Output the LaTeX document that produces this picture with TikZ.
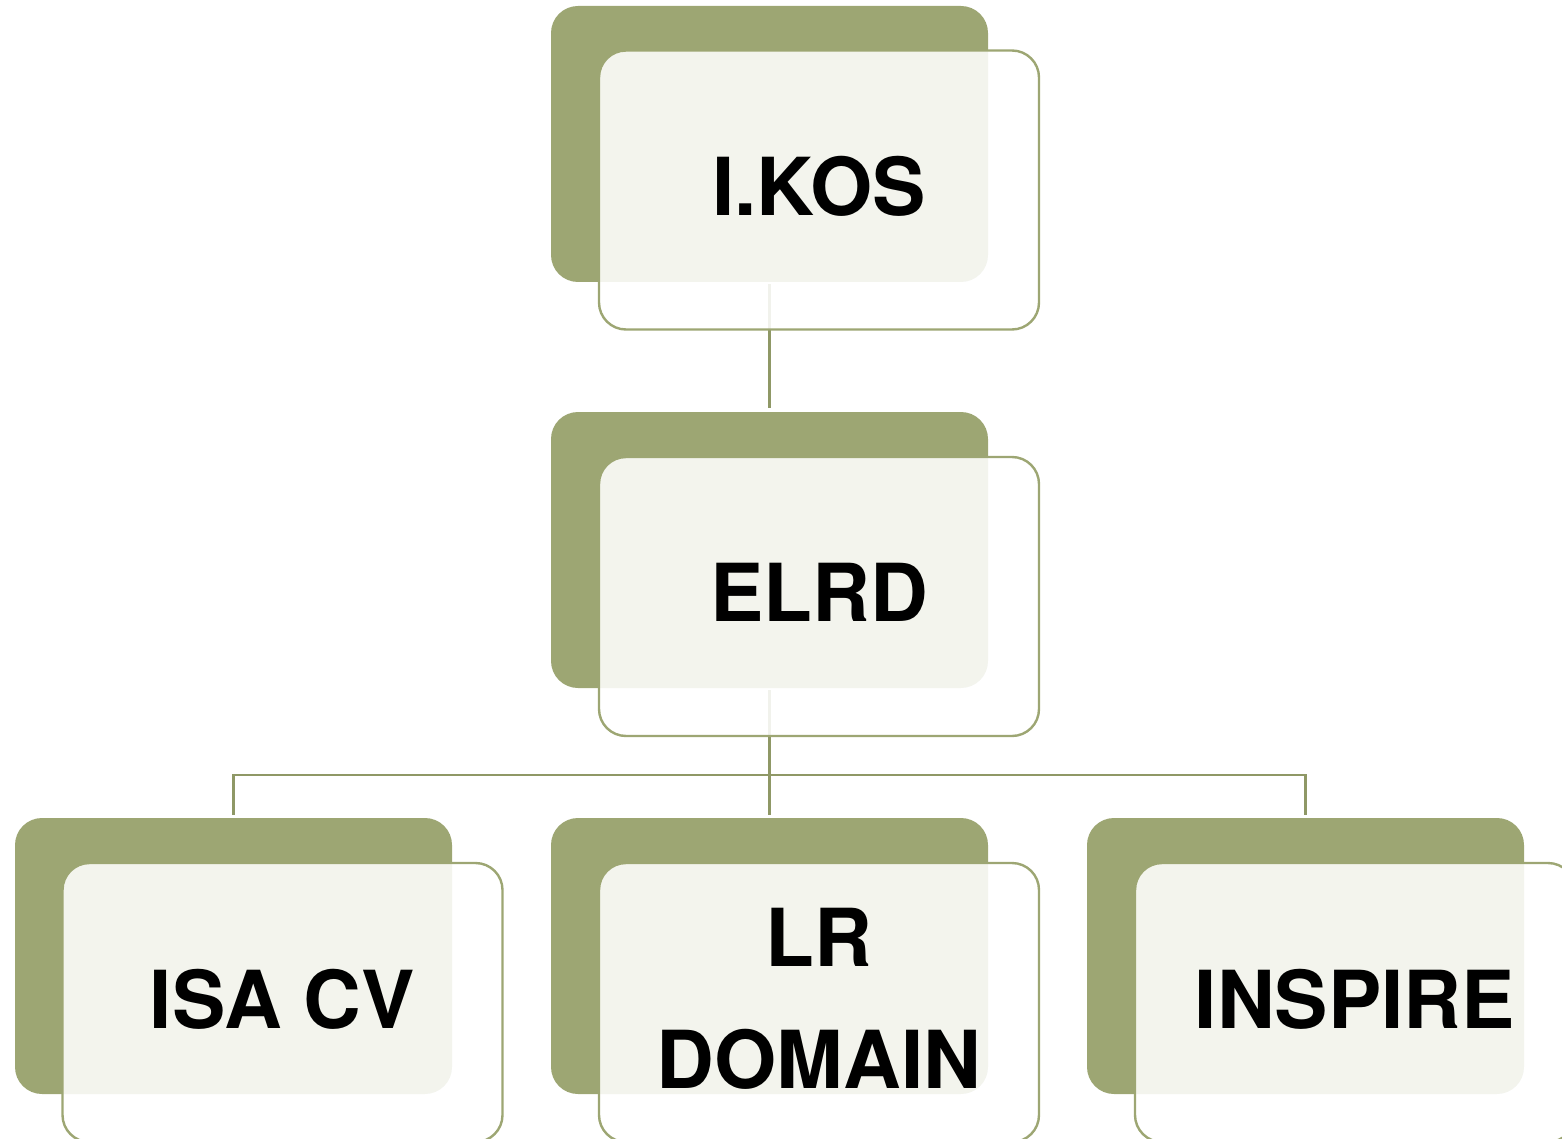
\documentclass[tikz,border=0pt]{standalone}
\usepackage{fontspec}
\setmainfont{TeX Gyre Heros}
\definecolor{olive}{RGB}{157,166,115}
\definecolor{linkc}{RGB}{143,152,102}
\begin{document}
\begin{tikzpicture}[x=1pt,y=-1pt,
  back/.style={fill=olive, draw=none, rounded corners=27pt, minimum width=437pt, minimum height=276pt, inner sep=0pt},
  front/.style={fill=white, fill opacity=0.88, text opacity=1, draw=olive, draw opacity=1, line width=2.4pt, rounded corners=27pt,
     minimum width=440pt, minimum height=279pt, inner sep=0pt, text depth=8pt, align=center,
     font=\fontsize{80}{122}\selectfont\bfseries},
  link/.style={draw=linkc, line width=2.4pt}]
\useasboundingbox (0,0) rectangle (1562,1139);
\clip (0,0) rectangle (1562,1139);
% back plates
\node[back] (b1) at (769.5,144) {};
\node[back] (b2) at (769.5,550) {};
\node[back] (b3) at (233.5,956) {};
\node[back] (b4) at (769.5,956) {};
\node[back] (b5) at (1305.5,956) {};
% connectors
\coordinate (j) at (769.5,775);
\draw[link, shorten <=2pt, shorten >=4pt] (b1.south) -- (b2.north);
\draw[link, shorten <=2pt] (b2.south) -- (j);
\draw[link, shorten >=3pt] (j) -| (b3.north);
\draw[link, shorten >=3pt] (j) -| (b5.north);
\draw[link, shorten >=3pt] (j) -- (b4.north);
% front cards
\node[front] (f1) at (819,190) {I.KOS};
\node[front] (f2) at (819,596.5) {ELRD};
\node[front] (f3) at (282.5,1002.5) {ISA CV};
\node[front] (f4) at (819,1002.5) {LR\\DOMAIN};
\node[front] (f5) at (1355,1002.5) {INSPIRE};
\end{tikzpicture}
\end{document}
